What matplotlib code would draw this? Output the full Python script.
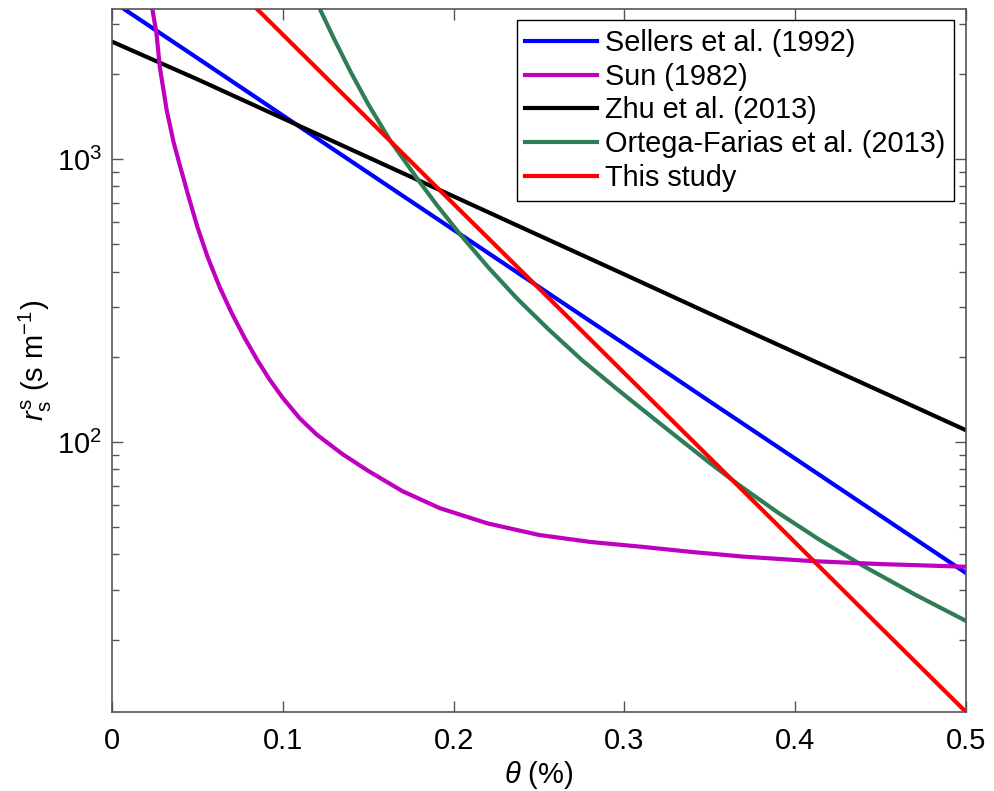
import numpy as np
import matplotlib
matplotlib.use("Agg")
import matplotlib.pyplot as plt
from matplotlib.ticker import LogLocator, LogFormatterMathtext, NullFormatter

plt.rcParams['font.family'] = ['Liberation Sans', 'DejaVu Sans']
plt.rcParams['mathtext.fontset'] = 'custom'
plt.rcParams['mathtext.rm'] = 'Liberation Sans'
plt.rcParams['mathtext.it'] = 'Liberation Sans:italic'

# soil water content (x) and soil surface resistance (y)
theta_lin = [0.0, 0.05, 0.1, 0.15, 0.2, 0.25, 0.3, 0.35, 0.4, 0.45, 0.5]
sellers = [3620, 2275, 1426, 895, 562, 353, 222, 139, 87.3, 54.8, 34.4]
zhu = [2600, 1914, 1393, 1014, 738, 537, 391, 284, 207, 151, 110]

theta_study = [0.05, 0.1, 0.15, 0.2, 0.25, 0.3, 0.35, 0.4, 0.45, 0.5]
this_study = [5490, 2754, 1383, 694, 349, 175, 87.9, 44.1, 22.1, 11.1]

theta_sun = [0.021, 0.0236, 0.026, 0.028, 0.032, 0.036, 0.040, 0.045, 0.050, 0.056,
             0.063, 0.070, 0.0775, 0.085, 0.092, 0.100, 0.110, 0.120, 0.135, 0.150,
             0.170, 0.192, 0.22, 0.25, 0.28, 0.31, 0.34, 0.37, 0.41, 0.45, 0.5]
sun = [4400, 3388, 2790, 2110, 1490, 1150, 937, 730, 575, 450,
       353, 286, 234, 195, 167, 143, 121, 106, 90.5, 79,
       67, 58.3, 51.5, 46.9, 44.3, 42.6, 40.8, 39.3, 37.9, 37.0, 36.2]

theta_ortega = [0.115, 0.1218, 0.13, 0.14, 0.15, 0.1628, 0.1793, 0.19, 0.2037, 0.22,
                0.237, 0.255, 0.275, 0.295, 0.31, 0.33, 0.35, 0.3677, 0.39, 0.4145,
                0.44, 0.47, 0.5]
ortega = [4300, 3381, 2661, 2018, 1563, 1164, 843, 690, 543, 416,
          322, 252, 195, 155, 131, 105, 84.3, 70, 56.2, 45,
          36.4, 28.9, 23.3]

fig = plt.figure(figsize=(9.94, 7.91), dpi=100)
ax = fig.add_axes([0.1127, 0.0999, 0.8591, 0.8891])

lw = 3
ax.plot(theta_lin, sellers, color='#0000FF', lw=lw, label='Sellers et al. (1992)', zorder=2.0)
ax.plot(theta_sun, sun, color='#BF00BF', lw=lw, label='Sun (1982)', zorder=2.3)
ax.plot(theta_lin, zhu, color='black', lw=lw, label='Zhu et al. (2013)', zorder=2.1)
ax.plot(theta_ortega, ortega, color='#2E7D55', lw=lw, label='Ortega-Farias et al. (2013)', zorder=2.2)
ax.plot(theta_study, this_study, color='#FF0000', lw=lw, label='This study', zorder=2.4)

ax.set_yscale('log')
ax.set_xlim(0, 0.5)
ax.set_ylim(11.1, 3400)
ax.set_xticks([0, 0.1, 0.2, 0.3, 0.4, 0.5])
ax.set_xticklabels(['0', '0.1', '0.2', '0.3', '0.4', '0.5'])
ax.yaxis.set_major_locator(LogLocator(base=10, numticks=10))
ax.yaxis.set_major_formatter(LogFormatterMathtext())
ax.yaxis.set_minor_locator(LogLocator(base=10, subs=np.arange(2, 10), numticks=20))
ax.yaxis.set_minor_formatter(NullFormatter())

axis_col = '#555555'
for sp in ax.spines.values():
    sp.set_color(axis_col)
    sp.set_linewidth(1.2)
ax.tick_params(which='both', direction='in', top=True, right=True, colors=axis_col,
               labelcolor='black', labelsize=21)
ax.tick_params(which='major', length=8, width=1)
ax.tick_params(which='minor', length=5, width=1)
ax.tick_params(axis='x', pad=11)
ax.tick_params(axis='y', pad=7)

ax.set_xlabel(r'$\theta$ (%)', fontsize=21, labelpad=3)
ax.set_ylabel(r'$r_\mathrm{s}^\mathrm{s}$ (s m$^{-1}$)', fontsize=21, labelpad=2)

leg = ax.legend(loc='upper right', fontsize=20.8, frameon=True, fancybox=False,
                edgecolor='black', framealpha=1, handlelength=2.5, handletextpad=0.28,
                labelspacing=0.2, borderaxespad=0.4, borderpad=0.3)
leg.get_frame().set_linewidth(1.0)

fig.savefig('out.png', dpi=100)
